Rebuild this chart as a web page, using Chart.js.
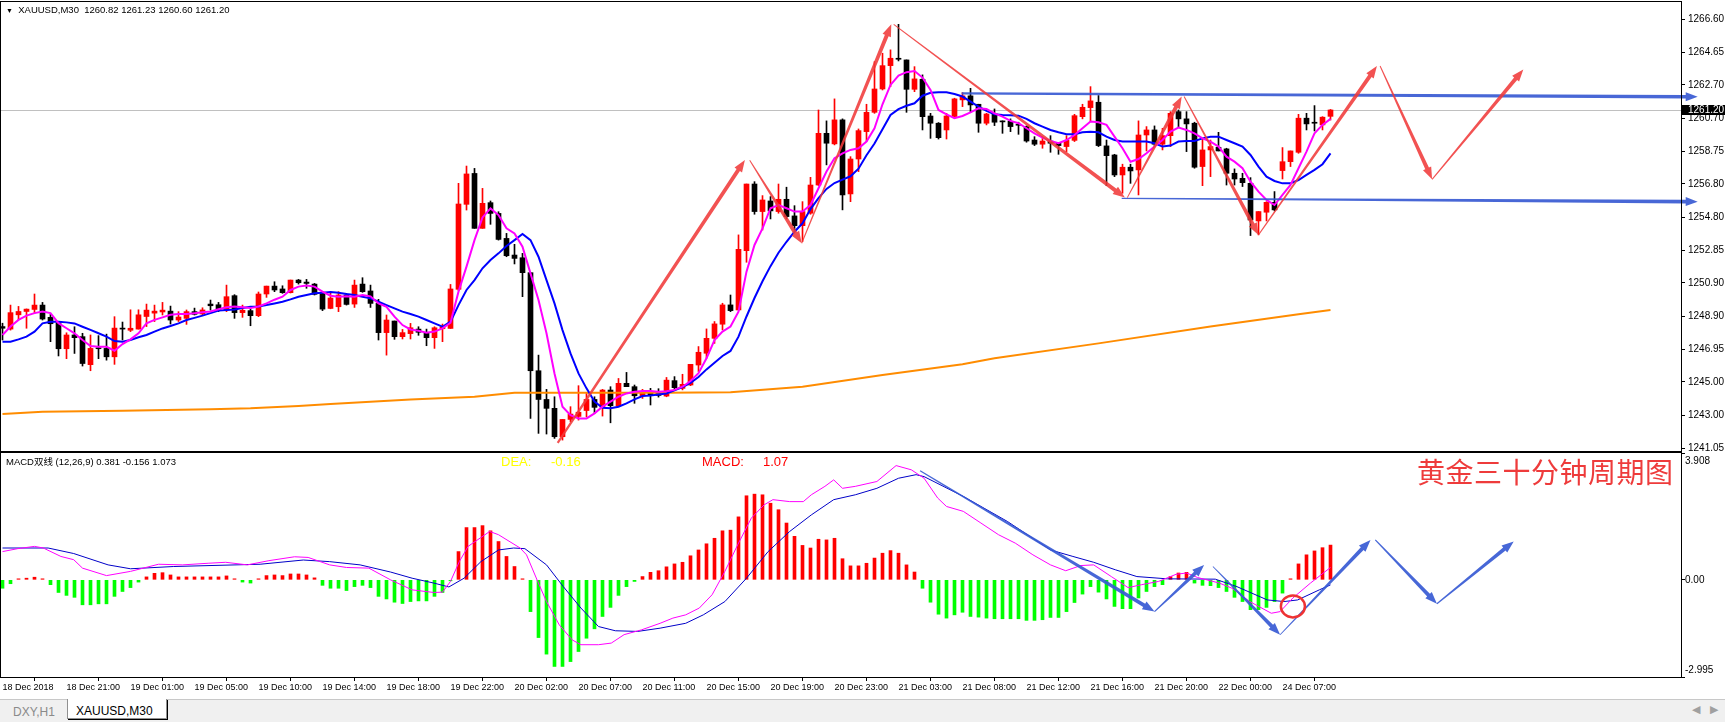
<!DOCTYPE html>
<html>
<head>
<meta charset="utf-8">
<title>XAUUSD,M30</title>
<script src="https://cdn.jsdelivr.net/npm/chart.js@4.4.1/dist/chart.umd.min.js"></script>
<style>
  html, body { margin: 0; padding: 0; background: #fff; }
  #page { position: relative; width: 1725px; height: 722px; overflow: hidden; font-family: 'Liberation Sans', Arial, sans-serif; }
  canvas { position: absolute; left: 0; }
  #priceCanvas { top: 0; }
  #macdCanvas { top: 452px; }
  .txt { position: absolute; white-space: nowrap; line-height: 1; }
</style>
</head>
<body>
<div id="page">
  <canvas id="priceCanvas" width="1725" height="452"></canvas>
  <canvas id="macdCanvas" width="1725" height="248"></canvas>

  <div class="txt" style="left:6px;top:5px;font-size:9.5px;color:#000"><span style="font-size:7px">&#9660;</span>&nbsp; XAUUSD,M30&nbsp; 1260.82 1261.23 1260.60 1261.20</div>
  <div class="txt" style="left:6px;top:457px;font-size:9.5px;color:#000;font-family:'Liberation Sans','Noto Sans CJK SC',sans-serif">MACD双线 (12,26,9) 0.381 -0.156 1.073</div>
  <div class="txt" style="left:501px;top:455px;font-size:13px;color:#ffff00">DEA:</div>
  <div class="txt" style="left:551px;top:455px;font-size:13px;color:#ffff00">-0.16</div>
  <div class="txt" style="left:702px;top:455px;font-size:13px;color:#ff0000">MACD:</div>
  <div class="txt" style="left:763px;top:455px;font-size:13px;color:#ff0000">1.07</div>
  <div class="txt" style="left:1417px;top:457px;font-size:28px;letter-spacing:0.5px;color:#ee3b3b;font-family:'Noto Sans CJK SC',sans-serif">黄金三十分钟周期图</div>

  <div style="position:absolute;left:0;top:699px;width:1725px;height:23px;background:#f0f0f0;border-top:1px solid #c8c8c8"></div>
  <div class="txt" style="left:13px;top:706px;font-size:12px;color:#8a8a8a">DXY,H1</div>
  <div style="position:absolute;left:67px;top:699px;width:98px;height:19px;background:#fff;border:1px solid #909090;border-top:none;box-shadow:1px 1px 0 #000"></div>
  <div class="txt" style="left:76px;top:705px;font-size:12px;color:#000">XAUUSD,M30</div>
  <div class="txt" style="left:1692px;top:704px;font-size:11px;color:#a0a0a0">&#9664;</div>
  <div class="txt" style="left:1710px;top:704px;font-size:11px;color:#a0a0a0">&#9654;</div>
</div>

<script>
const openP = [
  1248.3,1248.15,1249.0,1249.2,1249.32,1249.58,1248.85,1248.53,1246.98,1247.8,
  1247.7,1246.03,1247.0,1247.0,1246.5,1248.2,1248.08,1248.15,1248.9,1249.1,
  1249.17,1249.22,1248.69,1248.79,1249.19,1249.05,1249.64,1249.6,1249.28,1250.14,
  1249.13,1249.25,1248.95,1250.24,1250.71,1250.54,1250.32,1251.07,1250.95,1250.83,
  1250.28,1249.38,1249.48,1250.18,1249.64,1250.83,1250.42,1249.68,1247.94,1248.63,
  1247.7,1247.88,1248.15,1247.96,1247.64,1248.17,1248.19,1250.52,1255.58,1257.42,
  1254.15,1255.68,1255.04,1253.55,1252.56,1252.4,1251.51,1245.67,1243.96,1243.43,
  1241.74,1242.77,1242.95,1243.3,1243.96,1243.49,1244.52,1243.59,1244.92,1244.72,
  1244.18,1244.42,1244.4,1244.16,1245.08,1244.62,1244.82,1246.01,1246.71,1247.6,
  1248.44,1249.59,1249.29,1252.82,1256.79,1255.15,1255.78,1255.15,1255.88,1254.89,
  1254.31,1255.05,1256.73,1259.81,1259.18,1260.61,1256.2,1258.28,1259.91,1261.06,
  1262.45,1263.84,1264.28,1264.18,1262.43,1263.03,1260.84,1260.41,1260.01,1260.81,
  1261.8,1262.04,1261.54,1260.41,1260.96,1260.53,1260.53,1260.35,1260.21,1259.41,
  1259.16,1259.35,1259.25,1259.02,1259.39,1260.8,1261.34,1261.66,1259.06,1258.52,
  1257.33,1257.79,1257.63,1259.71,1260.01,1259.16,1259.67,1261.1,1260.67,1260.41,
  1257.83,1258.82,1258.98,1258.88,1257.43,1257.13,1256.83,1254.59,1255.11,1255.7,
  1257.59,1258.12,1258.68,1260.71,1260.43,1260.31,1260.82
];
const highP = [
  1248.5,1249.58,1249.5,1249.35,1250.24,1249.74,1249.05,1248.59,1247.93,1248.29,
  1247.9,1247.8,1247.76,1247.85,1248.89,1248.57,1249.3,1249.3,1249.64,1249.58,
  1249.74,1249.52,1249.19,1249.29,1249.4,1249.42,1249.88,1249.74,1250.77,1250.2,
  1249.58,1249.38,1250.36,1250.71,1250.97,1250.73,1251.07,1251.11,1251.11,1250.87,
  1250.38,1250.38,1250.38,1250.28,1251.07,1251.21,1250.77,1249.92,1248.99,1248.63,
  1248.13,1248.49,1248.29,1248.15,1248.29,1248.45,1250.81,1256.83,1257.86,1257.72,
  1256.53,1255.78,1255.14,1253.85,1253.2,1252.66,1251.51,1246.6,1244.56,1244.12,
  1242.77,1243.53,1244.78,1244.32,1244.12,1244.56,1244.72,1245.21,1245.57,1244.82,
  1244.56,1244.62,1244.6,1245.27,1245.32,1245.46,1246.05,1247.11,1248.16,1248.6,
  1249.69,1250.18,1253.76,1256.79,1256.93,1256.1,1256.04,1256.79,1256.6,1255.5,
  1255.74,1257.19,1261.2,1260.55,1261.86,1260.67,1258.42,1260.07,1261.54,1264.08,
  1264.58,1264.78,1266.3,1264.18,1263.78,1263.29,1261.0,1260.45,1261.0,1261.9,
  1262.23,1262.49,1261.54,1261.0,1261.26,1260.55,1260.67,1260.47,1260.25,1259.61,
  1259.61,1259.67,1259.25,1259.67,1260.94,1261.54,1262.59,1262.06,1259.41,1258.56,
  1257.97,1257.97,1260.55,1260.21,1260.25,1260.11,1261.1,1261.2,1261.1,1260.47,
  1259.51,1259.41,1259.87,1258.92,1257.69,1257.43,1257.17,1255.15,1255.74,1256.34,
  1258.96,1258.76,1260.94,1261.0,1261.46,1260.8,1261.23
];
const lowP = [
  1247.5,1248.09,1248.7,1248.2,1249.09,1248.69,1247.4,1246.55,1246.39,1246.7,
  1245.95,1245.67,1246.39,1246.3,1246.05,1247.5,1248.0,1248.15,1248.3,1248.6,
  1248.99,1248.45,1248.6,1248.43,1248.99,1248.99,1249.28,1249.19,1249.19,1248.79,
  1248.85,1248.35,1248.89,1250.04,1250.38,1250.28,1250.3,1250.83,1250.58,1250.18,
  1249.25,1249.36,1249.19,1249.58,1249.44,1250.34,1249.44,1247.5,1246.6,1247.54,
  1247.56,1247.56,1247.78,1247.16,1247.0,1247.4,1248.19,1250.44,1255.24,1254.15,
  1254.15,1254.39,1253.45,1252.46,1252.03,1250.08,1242.83,1241.94,1241.9,1241.64,
  1241.54,1242.63,1242.73,1242.93,1243.13,1242.97,1242.57,1243.53,1244.72,1243.73,
  1244.02,1243.63,1244.1,1244.12,1244.53,1244.53,1244.78,1245.62,1246.41,1247.3,
  1248.1,1249.19,1249.29,1252.13,1254.99,1254.05,1254.71,1255.05,1254.71,1254.05,
  1253.36,1254.99,1256.7,1257.93,1259.12,1255.25,1255.74,1257.53,1259.32,1261.0,
  1262.39,1262.59,1264.12,1261.06,1262.29,1260.01,1259.51,1259.47,1259.47,1260.71,
  1261.4,1261.1,1259.87,1260.31,1260.27,1259.81,1259.91,1259.75,1259.28,1259.08,
  1258.92,1258.68,1258.56,1258.72,1259.32,1260.67,1260.51,1259.02,1256.69,1257.23,
  1256.24,1256.83,1256.14,1258.76,1259.08,1258.82,1259.02,1260.15,1258.72,1257.73,
  1256.69,1257.23,1258.76,1256.73,1256.73,1256.64,1253.72,1253.76,1254.59,1255.19,
  1257.09,1257.83,1258.62,1260.01,1259.95,1260.01,1260.6
];
const closeP = [
  1248.2,1249.13,1249.2,1249.34,1249.58,1248.75,1248.47,1246.98,1247.8,1247.64,
  1246.1,1247.0,1246.98,1246.5,1248.21,1248.15,1248.2,1249.0,1249.28,1249.22,
  1249.28,1248.69,1248.87,1249.19,1249.03,1249.29,1249.54,1249.25,1250.08,1249.13,
  1249.27,1248.95,1250.24,1250.71,1250.48,1250.32,1251.07,1250.91,1250.87,1250.22,
  1249.34,1250.0,1250.18,1249.62,1250.77,1250.38,1249.68,1247.94,1248.69,1247.7,
  1247.94,1248.23,1247.96,1247.64,1248.23,1248.29,1250.54,1255.6,1257.39,1254.15,
  1255.64,1255.04,1253.49,1252.52,1252.36,1251.51,1245.67,1243.96,1243.43,1241.74,
  1242.77,1243.09,1243.2,1243.96,1243.49,1244.52,1243.59,1244.92,1244.72,1244.18,
  1244.42,1244.22,1244.2,1245.11,1244.66,1244.86,1246.05,1246.77,1247.6,1248.46,
  1249.59,1249.25,1252.9,1256.79,1255.15,1255.84,1255.19,1255.88,1254.85,1254.31,
  1255.15,1256.73,1259.81,1259.22,1260.61,1256.14,1258.28,1259.97,1261.06,1262.45,
  1263.84,1264.28,1264.22,1262.43,1263.05,1260.8,1260.41,1259.55,1260.84,1261.86,
  1262.04,1261.5,1260.41,1260.96,1260.47,1260.49,1260.21,1260.29,1259.35,1259.16,
  1259.35,1259.22,1259.08,1259.39,1260.86,1261.36,1261.74,1259.08,1258.48,1257.33,
  1257.79,1257.57,1259.71,1260.01,1259.16,1259.67,1261.0,1260.67,1260.37,1257.79,
  1258.82,1259.02,1258.76,1257.43,1257.09,1256.87,1254.65,1255.15,1255.7,1255.25,
  1258.12,1258.76,1260.71,1260.37,1260.41,1260.77,1261.2
];
const maFast = [
  1247.8,1248.3,1248.7,1248.95,1249.1,1249.2,1249.1,1248.5,1248.2,1247.9,
  1247.5,1247.14,1247.1,1247.1,1246.86,1247.26,1247.54,1247.9,1248.5,1248.7,
  1248.85,1249.0,1249.05,1249.05,1249.1,1249.15,1249.2,1249.33,1249.45,1249.5,
  1249.45,1249.4,1249.5,1249.68,1249.9,1250.08,1250.48,1250.68,1250.74,1250.68,
  1250.38,1250.14,1250.08,1250.1,1250.08,1250.18,1250.1,1249.68,1249.48,1248.89,
  1248.39,1248.13,1248.05,1247.94,1248.0,1248.19,1248.53,1250.38,1251.87,1253.45,
  1254.8,1255.34,1254.94,1254.15,1253.85,1253.06,1251.47,1249.88,1247.9,1245.51,
  1243.53,1243.03,1242.83,1242.83,1243.13,1243.53,1243.83,1244.12,1244.32,1244.42,
  1244.46,1244.46,1244.42,1244.45,1244.53,1244.72,1245.06,1245.52,1246.41,1247.5,
  1248.0,1248.3,1249.19,1251.57,1253.16,1254.15,1255.35,1255.54,1255.35,1255.15,
  1255.15,1255.54,1256.54,1257.53,1258.32,1258.62,1258.82,1258.92,1259.32,1260.11,
  1261.54,1262.69,1263.25,1263.45,1263.52,1263.13,1262.39,1261.2,1260.94,1260.71,
  1260.84,1261.06,1261.3,1261.26,1261.0,1260.8,1260.55,1260.41,1260.11,1259.81,
  1259.55,1259.35,1259.22,1259.41,1259.71,1260.11,1260.51,1260.47,1260.31,1259.61,
  1258.92,1258.12,1258.28,1258.62,1259.02,1259.41,1259.91,1260.15,1260.01,1259.81,
  1259.51,1259.32,1259.02,1258.42,1258.12,1257.73,1256.93,1256.34,1255.84,1255.54,
  1256.14,1256.74,1257.73,1258.72,1259.81,1260.31,1260.67
];
const maSlow = [
  1247.4,1247.4,1247.54,1247.7,1248.0,1248.49,1248.59,1248.59,1248.55,1248.49,
  1248.29,1248.1,1247.9,1247.7,1247.44,1247.4,1247.5,1247.66,1247.8,1248.0,
  1248.19,1248.33,1248.49,1248.69,1248.82,1248.95,1249.1,1249.25,1249.28,1249.32,
  1249.4,1249.48,1249.5,1249.58,1249.68,1249.78,1249.92,1250.08,1250.18,1250.28,
  1250.32,1250.36,1250.32,1250.24,1250.18,1250.08,1249.98,1249.78,1249.58,1249.38,
  1249.19,1249.05,1248.89,1248.69,1248.49,1248.29,1248.59,1249.58,1250.48,1251.07,
  1251.77,1252.26,1252.66,1253.1,1253.45,1253.81,1253.45,1252.46,1251.07,1249.68,
  1248.09,1246.7,1245.51,1244.62,1243.83,1243.47,1243.43,1243.53,1243.73,1243.96,
  1244.16,1244.2,1244.26,1244.32,1244.5,1244.7,1244.95,1245.3,1245.75,1246.15,
  1246.55,1246.85,1247.7,1248.9,1250.0,1251.0,1251.9,1252.7,1253.35,1253.95,
  1254.45,1255.3,1255.95,1256.5,1256.85,1257.05,1257.25,1257.7,1258.5,1259.2,
  1260.05,1260.9,1261.25,1261.45,1261.6,1262.05,1262.22,1262.25,1262.25,1262.15,
  1262.0,1261.7,1261.4,1261.15,1260.94,1260.9,1260.88,1260.86,1260.67,1260.41,
  1260.21,1260.01,1259.87,1259.75,1259.75,1259.87,1259.91,1259.87,1259.61,1259.41,
  1259.32,1259.32,1259.32,1259.32,1259.22,1259.02,1259.08,1259.32,1259.35,1259.35,
  1259.51,1259.61,1259.61,1259.41,1259.22,1259.02,1258.52,1257.83,1257.23,1256.97,
  1256.83,1256.83,1257.03,1257.33,1257.63,1257.97,1258.62
];
const longBars = [0,5,15,26,31,37,41,51,59,64,83,91,100,110,120,124,137,151,162,166];
const maLong = [1243.09,1243.23,1243.29,1243.37,1243.43,1243.57,1243.69,1243.96,1244.12,1244.36,
  1244.36,1244.39,1244.72,1245.42,1246.05,1246.41,1247.3,1248.3,1249.03,1249.29];

const macdHist = [
  -0.26,-0.12,0.02,0.05,0.08,0.02,-0.15,-0.39,-0.48,-0.54,
  -0.77,-0.77,-0.74,-0.74,-0.51,-0.36,-0.24,-0.07,0.09,0.2,
  0.22,0.15,0.09,0.09,0.09,0.09,0.09,0.09,0.12,0.02,
  -0.07,-0.1,0.01,0.13,0.15,0.13,0.18,0.18,0.15,0.06,
  -0.17,-0.26,-0.26,-0.33,-0.21,-0.17,-0.24,-0.51,-0.59,-0.69,
  -0.73,-0.67,-0.65,-0.65,-0.51,-0.39,-0.03,0.87,1.61,1.61,
  1.67,1.51,1.18,0.72,0.41,0.03,-0.98,-1.78,-2.29,-2.67,
  -2.67,-2.52,-2.21,-1.8,-1.51,-1.13,-0.85,-0.48,-0.21,-0.05,
  0.1,0.23,0.28,0.4,0.49,0.54,0.74,0.92,1.11,1.28,
  1.51,1.53,1.94,2.59,2.64,2.62,2.36,2.16,1.75,1.34,
  1.06,0.98,1.25,1.23,1.28,0.65,0.43,0.43,0.51,0.67,
  0.82,0.9,0.82,0.46,0.24,-0.26,-0.69,-1.06,-1.18,-1.08,
  -1.0,-1.13,-1.15,-1.18,-1.2,-1.2,-1.2,-1.2,-1.25,-1.25,
  -1.23,-1.16,-1.16,-0.98,-0.7,-0.44,-0.21,-0.38,-0.59,-0.82,
  -0.89,-0.89,-0.56,-0.36,-0.21,-0.15,0.1,0.21,0.23,-0.1,
  -0.17,-0.18,-0.24,-0.36,-0.54,-0.67,-0.92,-0.92,-0.85,-0.67,
  -0.41,0.01,0.49,0.77,0.89,0.99,1.07
];
const difBars = [0,1.9,4,5.1,7.3,8.9,10,13,16,19.5,22.5,25.7,27.9,30.6,33.3,36.5,38.2,40.9,43,45.8,
  48.5,51.2,53.9,55,56,57.1,58.2,60.9,62,64.7,65.5,66.9,68,69.6,71.2,72.3,74.5,76.1,77.7,79.9,
  82.2,83.8,85.4,87.1,88.7,90.3,91.9,93.6,95.2,96.3,98.4,100.1,101.1,102.8,103.9,105,106.6,109.3,111.7,113.6,
  115.2,116.9,118,120.1,122.3,124.5,126.6,128.8,131,132.9,134.8,136.4,138.6,140.7,142.4,144.5,146.7,148,149.4,152.1,
  153.7,155.9,158.6,159.7,161.3,163.5,166];
const difVals = [0.87,0.96,1.03,0.98,0.72,0.62,0.36,0.13,0.26,0.48,0.46,0.51,0.54,0.46,0.59,0.71,0.69,0.46,0.38,0.36,
  0,-0.31,-0.39,-0.38,-0.05,0.56,1.03,1.49,1.39,0.98,0.77,-0.05,-0.67,-1.39,-1.85,-2.0,-2.0,-1.95,-1.69,-1.54,
  -1.34,-1.18,-1.08,-0.87,-0.46,0.26,1.08,1.9,2.31,2.47,2.41,2.41,2.62,2.88,3.08,2.82,2.88,3.03,3.52,3.39,
  3.13,2.52,2.26,2.11,1.75,1.39,1.13,0.77,0.46,0.28,0.44,0.46,0.1,-0.24,-0.15,-0.05,0.17,0.21,0.07,-0.1,
  -0.26,-0.67,-1.03,-0.98,-0.56,-0.1,0.381];
const deaBars = [0,5.7,8.9,13.2,16,21.4,32.2,37.6,40.9,44.7,48.5,51.2,53.9,55.8,57.7,59.8,62,63.9,65.3,68,
  70.1,72.3,74.5,76.6,79.4,82.2,85.4,87.6,90.3,93,95.7,98.4,101.1,103.9,106.6,109.3,112,114.2,115.2,120.1,
  125.6,131,133.8,136.4,139.1,141.8,145.6,151.6,154.3,158.1,160.2,161.9,164.6,166];
const deaVals = [0.98,0.98,0.81,0.46,0.34,0.41,0.48,0.61,0.56,0.46,0.24,0.05,-0.1,-0.22,0.05,0.56,0.92,0.98,0.96,0.46,
  -0.21,-0.87,-1.44,-1.57,-1.59,-1.49,-1.34,-1.08,-0.67,0.05,0.87,1.49,2.0,2.47,2.62,2.82,3.13,3.24,3.18,2.57,
  1.8,0.92,0.72,0.54,0.31,0.1,0.03,0.02,-0.21,-0.62,-0.67,-0.62,-0.31,-0.156];

const priceTicks = [1266.60,1264.65,1262.70,1260.70,1258.75,1256.80,1254.80,1252.85,1250.90,1248.90,1246.95,1245.00,1243.00,1241.05];
const macdTicks = [3.908, 0, -2.995];
const timeTickBars = [0,8,16,24,32,40,48,56,64,72,80,88,96,104,112,120,128,136,144,152,160];
const timeLabels = ['18 Dec 2018','18 Dec 21:00','19 Dec 01:00','19 Dec 05:00','19 Dec 10:00','19 Dec 14:00',
  '19 Dec 18:00','19 Dec 22:00','20 Dec 02:00','20 Dec 07:00','20 Dec 11:00','20 Dec 15:00','20 Dec 19:00',
  '20 Dec 23:00','21 Dec 03:00','21 Dec 08:00','21 Dec 12:00','21 Dec 16:00','21 Dec 20:00','22 Dec 00:00','24 Dec 07:00'];
const lastPrice = 1261.20;

// hand drawn objects, in (bar, value) units
const redArrows = [
  [69.4,1241.38, 92.8,1258.22],
  [93.4,1258.2, 99.9,1253.26],
  [99.9,1253.26, 111.1,1266.3],
  [111.4,1266.3, 140.3,1255.98],
  [140.6,1255.98, 147.4,1262.0],
  [147.7,1262.0, 157,1253.76],
  [157,1253.76, 171.8,1263.82],
  [172.2,1263.82, 178.7,1257.07],
  [178.7,1257.07, 190.1,1263.61]
];
const levelLines = [
  [119.9,1262.19, 211.9,1261.98],
  [139.9,1255.94, 211.9,1255.74]
];
const macdArrows = [
  [114.7,3.36, 144,-0.98],
  [144,-0.98, 150.2,0.46],
  [151.3,0.41, 159.7,-1.69],
  [159.7,-1.69, 171,1.23],
  [171.6,1.23, 179.3,-0.74],
  [179.3,-0.74, 188.9,1.18]
];
const markCircle = [161.3, -0.82];

const xMin = -0.1875;
const xMax = 209.8125;
const priceMin = 1240.89;
const priceMax = 1267.63;
const macdMin = -2.995;
const macdMax = 3.908;

const bars = closeP.map((c, i) => i);
const candleColors = bars.map(i => closeP[i] > openP[i] ? '#ff0000' : '#000000');
const histColors = macdHist.map(v => v >= 0 ? '#ff0000' : '#00ff00');
const axisFont = { family: 'Liberation Sans', size: 10 };

function drawArrow(ctx, x1, y1, x2, y2, w0, w1, color) {
  const dx = x2 - x1, dy = y2 - y1, len = Math.hypot(dx, dy);
  const ux = dx / len, uy = dy / len, nx = -uy, ny = ux;
  const head = 12, hw = 4.5;
  const bx = x2 - ux * head, by = y2 - uy * head;
  ctx.fillStyle = color;
  ctx.beginPath();
  ctx.moveTo(x1 + nx * w0 / 2, y1 + ny * w0 / 2);
  ctx.lineTo(bx + nx * w1 / 2, by + ny * w1 / 2);
  ctx.lineTo(bx + nx * hw, by + ny * hw);
  ctx.lineTo(x2, y2);
  ctx.lineTo(bx - nx * hw, by - ny * hw);
  ctx.lineTo(bx - nx * w1 / 2, by - ny * w1 / 2);
  ctx.lineTo(x1 - nx * w0 / 2, y1 - ny * w0 / 2);
  ctx.closePath();
  ctx.fill();
}

function frame(chart) {
  const a = chart.chartArea, ctx = chart.ctx;
  ctx.save();
  ctx.strokeStyle = '#000';
  ctx.lineWidth = 1;
  ctx.strokeRect(a.left - 0.5, a.top - 0.5, a.right - a.left + 1, a.bottom - a.top + 1);
  ctx.restore();
}

const pricePlugin = {
  id: 'priceDrawings',
  beforeDatasetsDraw(chart) {
    const { ctx, chartArea: a, scales: { y } } = chart;
    const py = Math.round(y.getPixelForValue(lastPrice)) + 0.5;
    ctx.save();
    ctx.strokeStyle = '#c0c0c0';
    ctx.lineWidth = 1;
    ctx.beginPath();
    ctx.moveTo(a.left, py);
    ctx.lineTo(a.right, py);
    ctx.stroke();
    ctx.restore();
  },
  afterDraw(chart) {
    const { ctx, chartArea: a, scales: { x, y } } = chart;
    ctx.save();
    levelLines.forEach((l, k) => {
      drawArrow(ctx, x.getPixelForValue(l[0]), y.getPixelForValue(l[1]), x.getPixelForValue(l[2]), y.getPixelForValue(l[3]),
        k === 0 ? 2.2 : 1.2, 3.6, 'rgba(52,86,210,0.9)');
    });
    redArrows.forEach((r, k) => {
      drawArrow(ctx, x.getPixelForValue(r[0]), y.getPixelForValue(r[1]), x.getPixelForValue(r[2]), y.getPixelForValue(r[3]),
        k === 0 ? 2.2 : 1, 4, 'rgba(240,58,58,0.88)');
    });
    const py = y.getPixelForValue(lastPrice);
    ctx.fillStyle = '#000';
    ctx.fillRect(a.right + 1, Math.round(py) - 5, 44, 10);
    ctx.fillStyle = '#fff';
    ctx.font = '10px Liberation Sans';
    ctx.textBaseline = 'middle';
    ctx.textAlign = 'left';
    ctx.fillText(lastPrice.toFixed(2), a.right + 7, py);
    ctx.restore();
    frame(chart);
  }
};

const macdPlugin = {
  id: 'macdDrawings',
  afterDraw(chart) {
    const { ctx, chartArea: a, scales: { x, y } } = chart;
    ctx.save();
    macdArrows.forEach((r, k) => {
      drawArrow(ctx, x.getPixelForValue(r[0]), y.getPixelForValue(r[1]), x.getPixelForValue(r[2]), y.getPixelForValue(r[3]),
        k === 2 || k === 3 ? 0.8 : 1.2, 3.8, 'rgba(55,90,212,0.92)');
    });
    ctx.strokeStyle = '#ee3333';
    ctx.lineWidth = 2.5;
    ctx.beginPath();
    ctx.ellipse(x.getPixelForValue(markCircle[0]), y.getPixelForValue(markCircle[1]), 12, 11, 0, 0, Math.PI * 2);
    ctx.stroke();

    ctx.fillStyle = '#000';
    ctx.font = '10px Liberation Sans';
    ctx.textBaseline = 'middle';
    ctx.textAlign = 'left';
    const shift = [8, 0, -7];
    macdTicks.forEach((v, k) => {
      ctx.fillText(k === 1 ? v.toFixed(2) : String(v), a.right + 4, y.getPixelForValue(v) + shift[k]);
    });
    ctx.restore();
    frame(chart);
  }
};

new Chart(document.getElementById('priceCanvas'), {
  type: 'bar',
  data: {
    datasets: [
      { type: 'line', data: bars.map(i => ({ x: i, y: maFast[i] })), borderColor: '#ff00ff', borderWidth: 2, pointRadius: 0, tension: 0, order: 1 },
      { type: 'line', data: bars.map(i => ({ x: i, y: maSlow[i] })), borderColor: '#0000ff', borderWidth: 2, pointRadius: 0, tension: 0, order: 2 },
      { type: 'line', data: longBars.map((b, k) => ({ x: b, y: maLong[k] })), borderColor: '#ff8c00', borderWidth: 2, pointRadius: 0, tension: 0, order: 3 },
      { data: bars.map(i => ({ x: i, y: [openP[i], closeP[i]] })), backgroundColor: candleColors, barThickness: 5, minBarLength: 1, grouped: false, order: 4 },
      { data: bars.map(i => ({ x: i, y: [lowP[i], highP[i]] })), backgroundColor: candleColors, barThickness: 1, minBarLength: 1, grouped: false, order: 5 }
    ]
  },
  options: {
    responsive: false,
    animation: false,
    events: [],
    layout: { padding: { left: 1, top: 2, right: 0, bottom: 1 } },
    plugins: { legend: { display: false }, tooltip: { enabled: false } },
    scales: {
      x: { type: 'linear', display: false, min: xMin, max: xMax, offset: false },
      y: {
        position: 'right',
        min: priceMin,
        max: priceMax,
        afterBuildTicks: s => { s.ticks = priceTicks.map(v => ({ value: v })); },
        afterFit: s => { s.width = 44; s.paddingTop = 0; s.paddingBottom = 0; },
        ticks: { callback: v => v.toFixed(2), color: '#000', padding: 3, font: axisFont, autoSkip: false },
        grid: { drawOnChartArea: false, tickLength: 4, color: '#000' },
        border: { color: '#000' }
      }
    }
  },
  plugins: [pricePlugin]
});

new Chart(document.getElementById('macdCanvas'), {
  type: 'bar',
  data: {
    datasets: [
      { type: 'line', data: difBars.map((b, k) => ({ x: b, y: difVals[k] })), borderColor: '#ff00ff', borderWidth: 1, pointRadius: 0, tension: 0, order: 1 },
      { type: 'line', data: deaBars.map((b, k) => ({ x: b, y: deaVals[k] })), borderColor: '#0000c8', borderWidth: 1, pointRadius: 0, tension: 0, order: 2 },
      { data: bars.map(i => ({ x: i, y: macdHist[i] })), backgroundColor: histColors, barThickness: 3, minBarLength: 1, grouped: false, order: 3 }
    ]
  },
  options: {
    responsive: false,
    animation: false,
    events: [],
    layout: { padding: { left: 1, top: 1, right: 0, bottom: 0 } },
    plugins: { legend: { display: false }, tooltip: { enabled: false } },
    scales: {
      x: {
        type: 'linear',
        position: 'bottom',
        min: xMin,
        max: xMax,
        offset: false,
        afterBuildTicks: s => { s.ticks = timeTickBars.map(v => ({ value: v })); },
        afterFit: s => { s.height = 23; s.paddingLeft = 0; s.paddingRight = 0; },
        ticks: { callback: (v, i) => timeLabels[i], align: 'start', maxRotation: 0, autoSkip: false, padding: 1, color: '#000', font: { family: 'Liberation Sans', size: 9 } },
        grid: { drawOnChartArea: false, tickLength: 4, color: '#000' },
        border: { color: '#000' }
      },
      y: {
        position: 'right',
        min: macdMin,
        max: macdMax,
        afterBuildTicks: s => { s.ticks = macdTicks.map(v => ({ value: v })); },
        afterFit: s => { s.width = 44; s.paddingTop = 0; s.paddingBottom = 0; },
        ticks: { display: false },
        grid: { drawOnChartArea: false, tickLength: 4, color: '#000' },
        border: { color: '#000' }
      }
    }
  },
  plugins: [macdPlugin]
});
</script>
</body>
</html>
